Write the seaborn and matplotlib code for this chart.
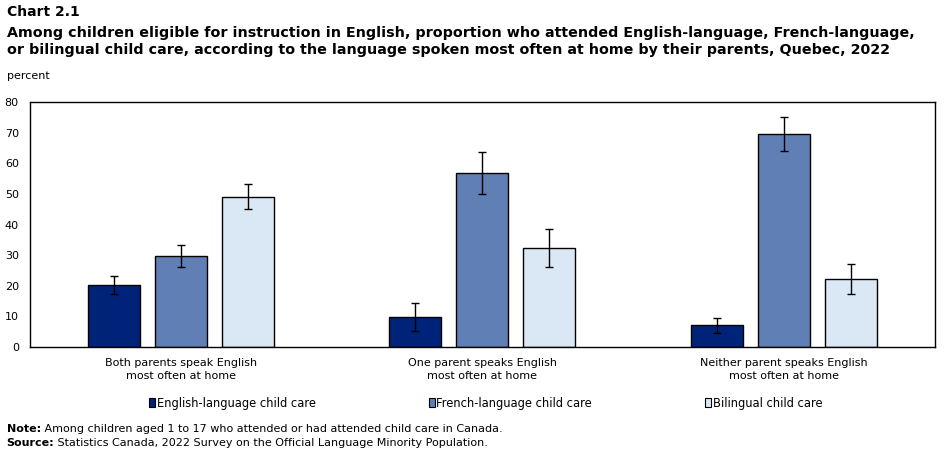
import matplotlib
matplotlib.use("Agg")
import matplotlib.pyplot as plt
import seaborn as sns
import pandas as pd

# categories and series
groups = ["Both parents speak English\nmost often at home",
          "One parent speaks English\nmost often at home",
          "Neither parent speaks English\nmost often at home"]
series = ["English-language child care", "French-language child care", "Bilingual child care"]

english = [20.2, 9.7, 7.1]
french = [29.6, 56.8, 69.5]
bilingual = [48.9, 32.3, 22.1]

# confidence interval bounds
english_low = [17.2, 5.1, 4.5]
english_high = [23.1, 14.3, 9.6]
french_low = [26.1, 49.9, 64.0]
french_high = [33.2, 63.6, 75.1]
bilingual_low = [45.1, 26.1, 17.2]
bilingual_high = [53.2, 38.5, 27.0]

yticks = [0, 10, 20, 30, 40, 50, 60, 70, 80]
colors = ["#00237A", "#6080B5", "#DAE8F6"]

df = pd.DataFrame({
    "group": groups * 3,
    "series": [series[0]] * 3 + [series[1]] * 3 + [series[2]] * 3,
    "value": english + french + bilingual,
})
lows = [english_low, french_low, bilingual_low]
highs = [english_high, french_high, bilingual_high]

sns.set_theme(style="white")
plt.rcParams["font.family"] = ["DejaVu Sans"]
plt.rcParams["text.color"] = "black"
plt.rcParams["xtick.color"] = "black"
plt.rcParams["ytick.color"] = "black"

fig = plt.figure(figsize=(9.45, 4.54), dpi=100)
ax = fig.add_axes([0.0317, 0.2357, 0.9573, 0.5393])

sns.barplot(data=df, x="group", y="value", hue="series", palette=colors,
            width=0.667, gap=0.225, errorbar=None, edgecolor="black",
            linewidth=1, saturation=1, ax=ax, legend=False)

# error bars from the bar containers
for cont, vals, lo, hi in zip(ax.containers, [english, french, bilingual], lows, highs):
    xs = [b.get_x() + b.get_width() / 2 for b in cont]
    err = [[v - l for v, l in zip(vals, lo)], [h - v for v, h in zip(vals, hi)]]
    ax.errorbar(xs, vals, yerr=err, fmt="none", ecolor="black", elinewidth=1,
                capsize=2.8, capthick=1)

ax.set_xlim(-0.5, 2.5)
ax.set_ylim(0, 80)
ax.set_yticks(yticks)
ax.set_xlabel("")
ax.set_ylabel("")
ax.tick_params(axis="both", length=0, labelsize=8, colors="black")
ax.tick_params(axis="y", pad=8)
ax.tick_params(axis="x", pad=8)
for lab in ax.get_xticklabels():
    lab.set_linespacing(1.3)
for s in ax.spines.values():
    s.set_visible(True)
    s.set_color("black")
    s.set_linewidth(1)

# legend
handles = [plt.Rectangle((0, 0), 1, 1, facecolor=c, edgecolor="black", linewidth=0.8) for c in colors]
fig.legend(handles, series, loc="center", bbox_to_anchor=(0.514, 0.112), ncol=3,
           frameon=False, fontsize=8.3, handlelength=0.5, handleheight=0.85,
           handletextpad=0.15, columnspacing=9.8)

# titles
fig.text(0.007, 0.99, "Chart 2.1", fontsize=10, fontweight="bold", va="top")
fig.text(0.007, 0.943, "Among children eligible for instruction in English, proportion who attended English-language, French-language,\n"
         "or bilingual child care, according to the language spoken most often at home by their parents, Quebec, 2022",
         fontsize=10.3, fontweight="bold", va="top", linespacing=1.3)
fig.text(0.007, 0.833, "percent", fontsize=8, va="center")

# notes
note = fig.text(0.007, 0.055, "Note:", fontsize=8, fontweight="bold", va="center")
ax.annotate(" Among children aged 1 to 17 who attended or had attended child care in Canada.",
            xy=(1, 0.5), xycoords=note, va="center", fontsize=8, annotation_clip=False)
src = fig.text(0.007, 0.025, "Source:", fontsize=8, fontweight="bold", va="center")
ax.annotate(" Statistics Canada, 2022 Survey on the Official Language Minority Population.",
            xy=(1, 0.5), xycoords=src, va="center", fontsize=8, annotation_clip=False)

fig.savefig("out.png", dpi=100)
